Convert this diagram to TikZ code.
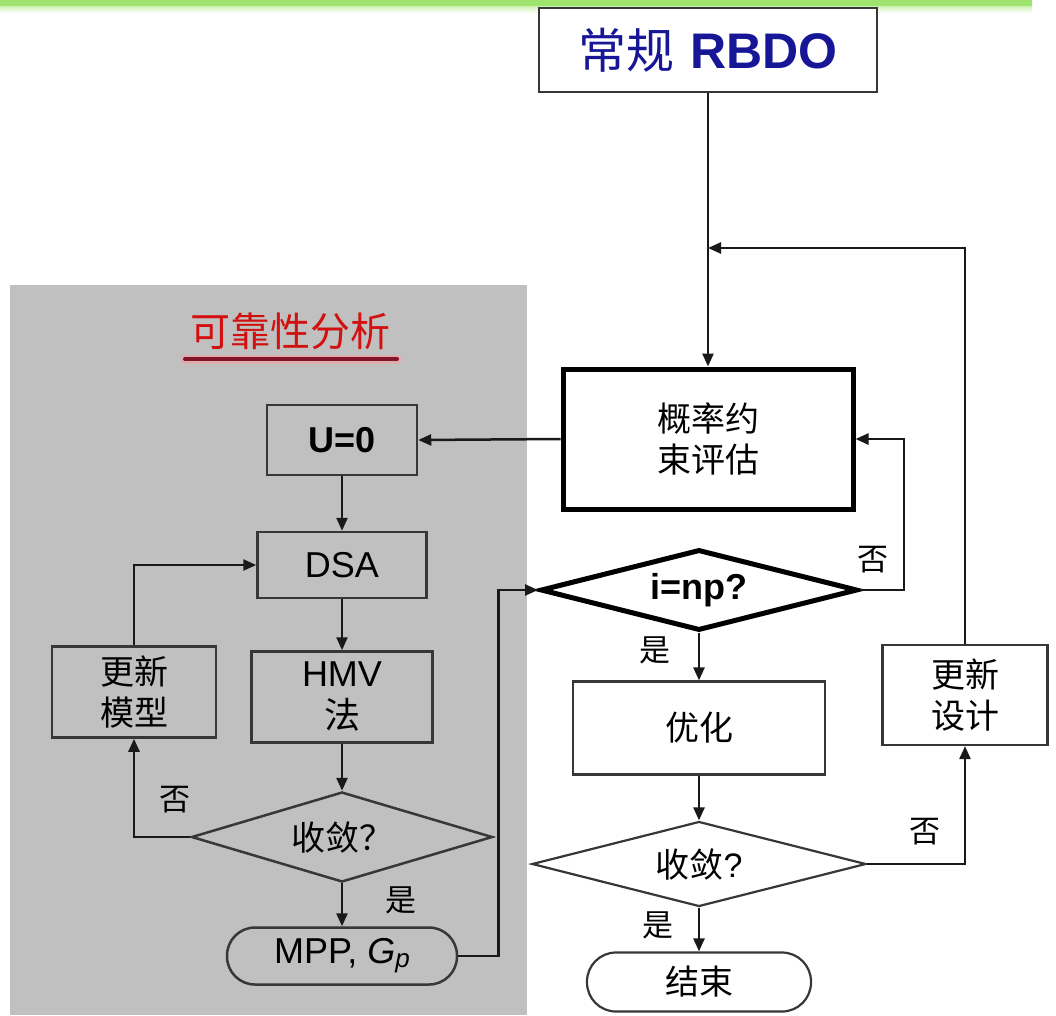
\documentclass[tikz,border=0pt]{standalone}
\usepackage{fontspec}
\setmainfont{Liberation Sans}
\newfontfamily\cjk{Noto Sans CJK SC}
\usetikzlibrary{shapes.geometric,arrows.meta}
\definecolor{navy}{RGB}{22,22,150}
\definecolor{grayarea}{RGB}{192,192,192}
\definecolor{redtxt}{RGB}{210,16,16}
\definecolor{ulred}{RGB}{130,20,40}
\definecolor{bandgreen}{RGB}{160,228,112}
\definecolor{edge}{RGB}{55,55,55}
\newcommand{\fsz}[2]{\fontsize{#1}{#2}\selectfont}
\begin{document}
\begin{tikzpicture}[x=1pt,y=-1pt,
  boxg/.style={draw=edge, line width=2.5pt, rectangle, inner sep=0pt, align=center},
  boxw/.style={draw=edge, line width=2.2pt, fill=white, rectangle, inner sep=0pt, align=center},
  dia/.style={diamond, inner sep=0pt, align=center},
  arr/.style={-{Triangle[length=13pt,width=11pt]}, line width=2.5pt, draw=black!90},
  lbl/.style={inner sep=0pt, font=\cjk\fsz{31}{34}},
  cn/.style={font=\cjk\fsz{34}{41}},
  ln/.style={font=\fsz{36}{40}}]
\useasboundingbox (0,0) rectangle (1056,1015);
% top band
\shade[top color=bandgreen, bottom color=white] (0,0) rectangle (1032,13);
\fill[bandgreen] (0,0) rectangle (1032,6);
% gray area
\fill[grayarea] (10,285) rectangle (527,1015);
% title
\node[boxw, line width=2.6pt, minimum width=338pt, minimum height=84pt, text=navy] (title) at (708,50)
  {{\cjk\fsz{48}{52}常规}\hspace{16pt}{\bfseries\fsz{50}{54}RBDO}};
% probability constraint evaluation
\node[boxw, draw=black, line width=5pt, minimum width=290pt, minimum height=140pt, cn] (pce) at (708,439)
  {概率约\\束评估};
\coordinate (jn) at (708,248);
% reliability analysis title
\node[inner sep=0pt, text=redtxt, font=\cjk\fsz{40}{44}] (rtitle) at (290,331) {可靠性分析};
\draw[line width=9pt, red!40, opacity=0.5, line cap=round] (185,359) -- (397,359);
\draw[line width=4pt, ulred, line cap=round] (185,359) -- (397,359);
% left column
\node[boxg, minimum width=150pt, minimum height=70pt, font=\bfseries\fsz{36}{40}] (u0) at (342,440) {U=0};
\node[boxg, minimum width=169pt, minimum height=66pt, ln] (dsa) at (342,565) {DSA};
\node[boxg, minimum width=181pt, minimum height=91pt, font=\fsz{36}{42}] (hmv) at (342,697)
  {HMV\\{\cjk 法}};
\node[boxg, minimum width=164pt, minimum height=91pt, cn] (um) at (134,692) {更新\\模型};
\node[dia, shape aspect=3.34, draw=edge, line width=2.5pt, minimum width=301pt, minimum height=90pt, cn] (d1) at (342,837) {收敛？};
\node[boxg, rounded corners=28pt, minimum width=230pt, minimum height=57pt, ln] (mpp) at (342,956)
  {MPP, \textit{G}\raisebox{-4pt}{\fsz{26}{28}\textit{p}}};
% right column
\node[dia, shape aspect=3.9, draw=black, line width=5pt, fill=white, minimum width=317pt, minimum height=81pt, font=\bfseries\fsz{36}{40}] (d2) at (699,590) {i=np?};
\node[boxw, minimum width=252pt, minimum height=93pt, cn] (opt) at (699,728) {优化};
\node[dia, shape aspect=3.9, draw=edge, line width=2.2pt, fill=white, minimum width=334pt, minimum height=85pt] (d3) at (699,864)
  {{\cjk\fsz{34}{40}收敛}{\fsz{34}{40}?}};
\node[boxw, rounded corners=29pt, minimum width=224pt, minimum height=59pt, cn] (fin) at (699,982) {结束};
\node[boxw, minimum width=165pt, minimum height=100pt, cn] (upd) at (965,695) {更新\\设计};
% labels
\node[lbl] (n1) at (175,800) {否};
\node[lbl] (y1) at (401,900) {是};
\node[lbl] (n2) at (873,560) {否};
\node[lbl] (y2) at (655,650) {是};
\node[lbl] (n3) at (925,832) {否};
\node[lbl] (y3) at (658,925) {是};
% connectors
\draw[arr] (title.south) -- (pce.north);
\draw[arr] (upd.north) |- (jn);
\draw[arr] (pce.west) -- (u0.east);
\draw[arr] (u0.south) -- (dsa.north);
\draw[arr] (dsa.south) -- (hmv.north);
\draw[arr] (hmv.south) -- (d1.north);
\draw[arr] (d1.west) -| (um.south);
\draw[arr] (um.north) |- (dsa.west);
\draw[arr] (d1.south) -- (mpp.north);
\draw[arr] (mpp.east) -- ++(40,0) |- (d2.west);
\draw[arr] (d2.east) -- ++(44,0) |- (pce.east);
\draw[arr] (d2.south) -- (opt.north);
\draw[arr] (opt.south) -- (d3.north);
\draw[arr] (d3.east) -| (upd.south);
\draw[arr] (d3.south) -- (fin.north);
\end{tikzpicture}
\end{document}
